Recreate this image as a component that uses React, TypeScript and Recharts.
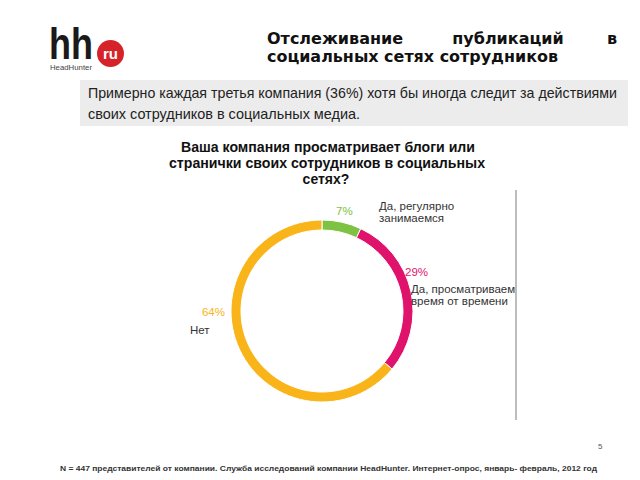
import React from "react";
import { PieChart, Pie, Cell } from "recharts";

const answers = ["Да, регулярно занимаемся", "Да, просматриваем время от времени", "Нет"];
const shares = [7, 29, 64];
const colors = ["#7dc242", "#e0136c", "#f8b418"];

const data = answers.map((name, i) => ({ name, value: shares[i] }));

// label spots, picked by eye against the ring
const labelSpots = [
  { px: 336, py: 215, anchor: "start", lx: 379, ly: 210 },
  { px: 405, py: 276, anchor: "start", lx: 411, ly: 293 },
  { px: 225, py: 316, anchor: "end", lx: 190, ly: 334 },
];

const nameLines: string[][] = [
  ["Да, регулярно", "занимаемся"],
  ["Да, просматриваем", "время от времени"],
  ["Нет"],
];

const renderLabel = (props: any) => {
  const { index, value } = props;
  const s = labelSpots[index];
  return (
    <g key={`lbl-${index}`}>
      <text x={s.px} y={s.py} fill={colors[index]} fontSize={11.5} fontFamily="Liberation Sans, Arial" textAnchor={s.anchor}>
        {value}%
      </text>
      {nameLines[index].map((line, k) => (
        <text key={k} x={s.lx} y={s.ly + k * 12} fill="#333" fontSize={11.5} fontFamily="Liberation Sans, Arial">
          {line}
        </text>
      ))}
    </g>
  );
};

export default function App() {
  return (
    <div style={{ position: "absolute", left: 0, top: 0, width: 640, height: 480, background: "#fff", overflow: "hidden" }}>
      <svg width={640} height={480} style={{ position: "absolute", left: 0, top: 0 }}>
        {/* logo */}
        <text x={49} y={59} fontSize={45} fontWeight="bold" fontFamily="Liberation Sans, Arial" fill="#1a1a1a" textLength={44} lengthAdjust="spacingAndGlyphs">
          hh
        </text>
        <circle cx={110.5} cy={53.5} r={13.5} fill="#d6232a" />
        <text x={110.5} y={58.5} fontSize={15} fontWeight="bold" fill="#fff" textAnchor="middle" fontFamily="Liberation Sans, Arial">
          ru
        </text>
        <text x={50} y={70} fontSize={8} fill="#444" fontFamily="Liberation Sans, Arial" textLength={42} lengthAdjust="spacingAndGlyphs">
          HeadHunter
        </text>

        {/* title */}
        <g fontFamily="DejaVu Sans, Verdana" fontWeight="bold" fontSize={16} fill="#111">
          <text x={267} y={44}>Отслеживание</text>
          <text x={508} y={44} textAnchor="middle">публикаций</text>
          <text x={617} y={44} textAnchor="end">в</text>
          <text x={267} y={62} textLength={291} lengthAdjust="spacingAndGlyphs">социальных сетях сотрудников</text>
        </g>

        {/* summary box */}
        <rect x={80} y={80} width={548} height={46} fill="#ececec" />
        <g fontFamily="Liberation Sans, Arial" fontSize={15} fill="#222">
          <text x={88} y={98} textLength={529} lengthAdjust="spacingAndGlyphs">
            Примерно каждая третья компания (36%) хотя бы иногда следит за действиями
          </text>
          <text x={88} y={119} textLength={272} lengthAdjust="spacingAndGlyphs">своих сотрудников в социальных медиа.</text>
        </g>

        {/* question */}
        <g fontFamily="Liberation Sans, Arial" fontWeight="bold" fontSize={14} fill="#111" textAnchor="middle">
          <text x={328} y={152} textLength={294} lengthAdjust="spacingAndGlyphs">Ваша компания просматривает блоги или</text>
          <text x={327} y={168} textLength={316} lengthAdjust="spacingAndGlyphs">странички своих сотрудников в социальных</text>
          <text x={326} y={184}>сетях?</text>
        </g>

        <line x1={516} y1={190} x2={516} y2={420} stroke="#bdbdbd" strokeWidth={2} />

        <text x={598} y={449} fontSize={8} fill="#555" fontFamily="Liberation Sans, Arial">
          5
        </text>
        <text x={60} y={471} fontSize={8} fontWeight="bold" fill="#333" fontFamily="Liberation Sans, Arial" textLength={537} lengthAdjust="spacingAndGlyphs">
          N = 447 представителей от компании. Служба исследований компании HeadHunter. Интернет-опрос, январь- февраль, 2012 год
        </text>
      </svg>

      <div style={{ position: "absolute", left: 0, top: 0 }}>
        <PieChart width={640} height={480}>
          <Pie
            data={data}
            dataKey="value"
            nameKey="name"
            cx={317}
            cy={306}
            outerRadius={91}
            innerRadius={81}
            startAngle={90}
            endAngle={-270}
            stroke="#fff"
            strokeWidth={1}
            label={renderLabel}
            labelLine={false}
            isAnimationActive={false}
          >
            {data.map((entry, index) => (
              <Cell key={`cell-${index}`} fill={colors[index]} />
            ))}
          </Pie>
        </PieChart>
      </div>
    </div>
  );
}
